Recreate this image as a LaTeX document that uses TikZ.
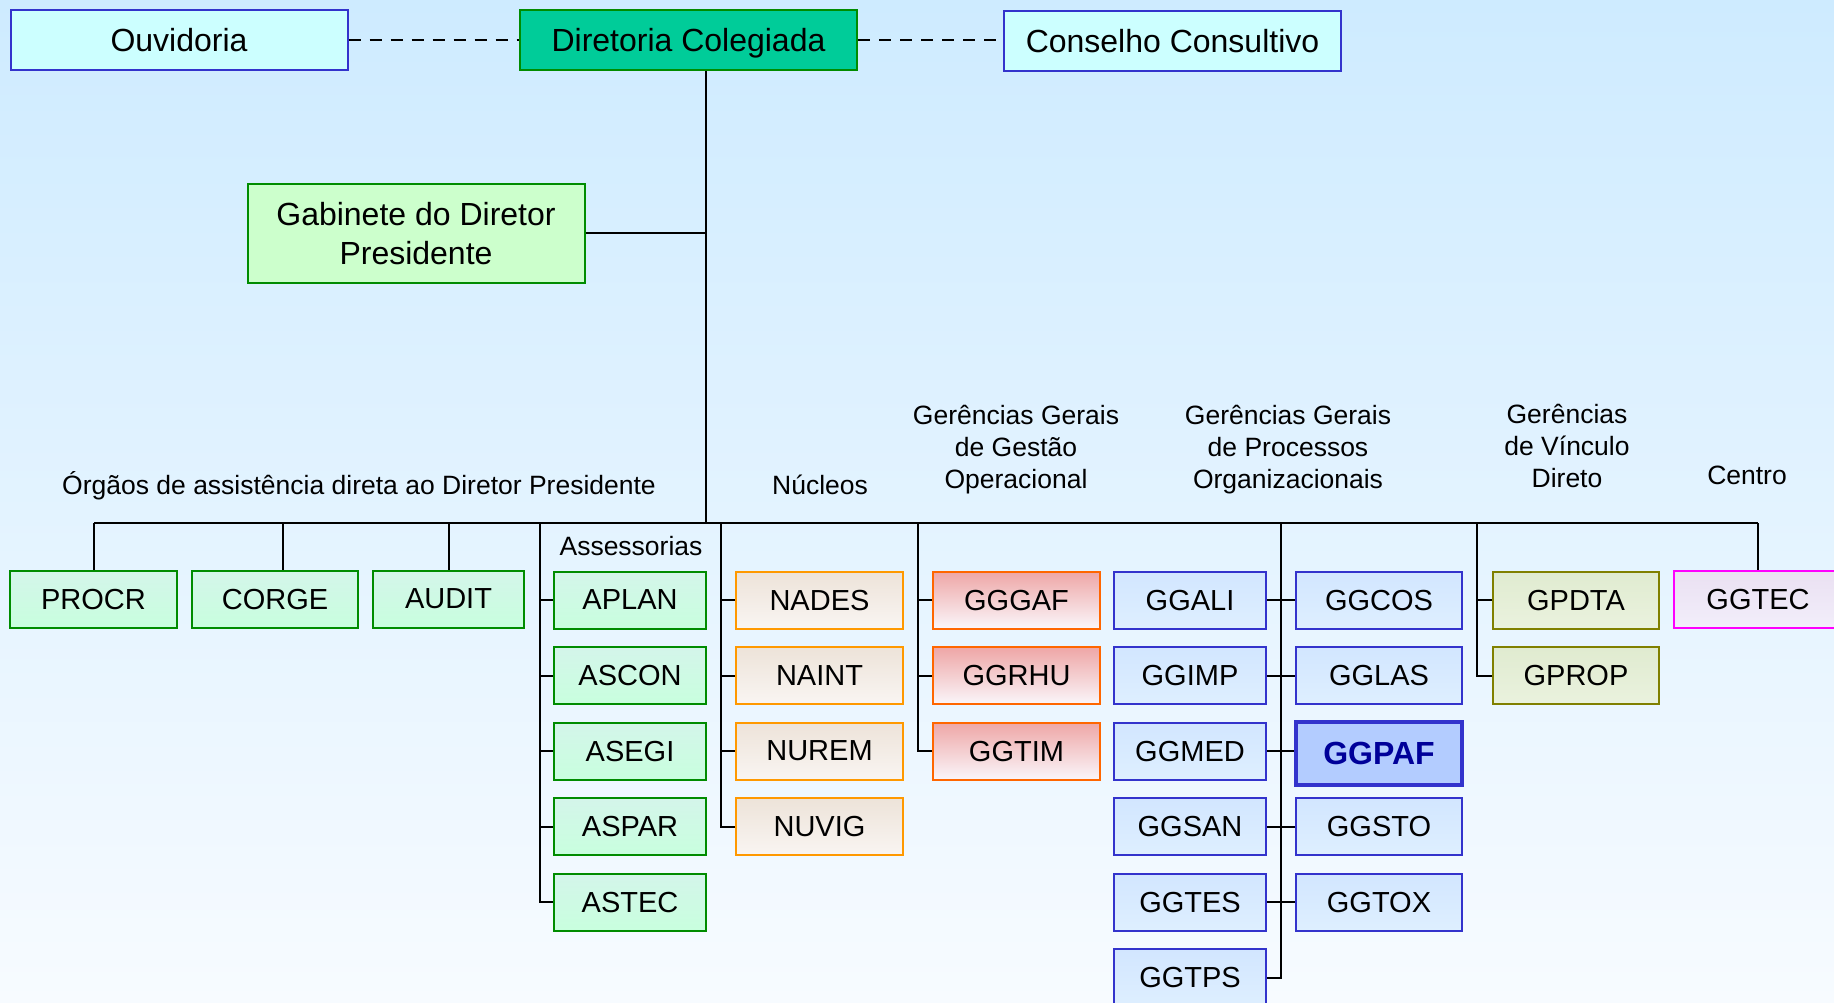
\documentclass[tikz,border=0pt]{standalone}
\usepackage{fontspec}
\setmainfont{Liberation Sans}
\definecolor{bgtop}{RGB}{206,235,255}
\definecolor{bgbot}{RGB}{247,251,255}
\definecolor{cyanfill}{RGB}{204,255,255}
\definecolor{bluebd}{RGB}{51,51,204}
\definecolor{dirfill}{RGB}{0,204,153}
\definecolor{greenbd}{RGB}{0,140,0}
\definecolor{gabfill}{RGB}{204,255,204}
\definecolor{gtop}{RGB}{212,245,234}
\definecolor{gbot}{RGB}{200,255,222}
\definecolor{ntop}{RGB}{237,227,217}
\definecolor{nbot}{RGB}{249,245,242}
\definecolor{nbd}{RGB}{255,153,0}
\definecolor{rtop}{RGB}{238,166,166}
\definecolor{rbot}{RGB}{250,246,250}
\definecolor{rbd}{RGB}{255,102,0}
\definecolor{btop}{RGB}{210,230,255}
\definecolor{bbot}{RGB}{222,239,255}
\definecolor{pafill}{RGB}{179,204,255}
\definecolor{patext}{RGB}{0,0,153}
\definecolor{otop}{RGB}{224,235,208}
\definecolor{obot}{RGB}{234,242,222}
\definecolor{obd}{RGB}{128,128,0}
\definecolor{mtop}{RGB}{234,224,242}
\definecolor{mbot}{RGB}{242,238,250}
\definecolor{mbd}{RGB}{255,0,255}
\begin{document}
\begin{tikzpicture}[x=1pt,y=-1pt,
  topbox/.style={draw, line width=2pt, rectangle, inner sep=0pt, minimum width=337pt, minimum height=60pt, text depth=0pt, font=\fontsize{32}{39}\selectfont, align=center},
  box/.style={draw, line width=2pt, rectangle, inner sep=0pt, minimum height=57pt, text depth=0pt, font=\fontsize{29}{34}\selectfont},
  gbox/.style={box, draw=greenbd, top color=gtop, bottom color=gbot},
  nbox/.style={box, draw=nbd, top color=ntop, bottom color=nbot, minimum width=167pt},
  rbox/.style={box, draw=rbd, top color=rtop, bottom color=rbot, minimum width=167pt},
  bbox/.style={box, draw=bluebd, top color=btop, bottom color=bbot},
  obox/.style={box, draw=obd, top color=otop, bottom color=obot, minimum width=166pt},
  mbox/.style={box, draw=mbd, top color=mtop, bottom color=mbot, minimum width=168pt},
  conn/.style={line width=2pt, black},
  dashline/.style={line width=2pt, black, dash pattern=on 12pt off 9pt},
  lbl/.style={font=\fontsize{26.5}{32}\selectfont, align=center, inner sep=0pt}
]
\shade[top color=bgtop, bottom color=bgbot] (0,0) rectangle (1834,1003);
\useasboundingbox (0,0) rectangle (1834,1003);

% top level
\node[topbox, fill=cyanfill, draw=bluebd] (ouv) at (179,40) {Ouvidoria};
\node[topbox, fill=dirfill, draw=greenbd] (dir) at (688.5,40) {Diretoria Colegiada};
\node[topbox, fill=cyanfill, draw=bluebd] (cons) at (1172.5,41) {Conselho Consultivo};
\node[topbox, fill=gabfill, draw=greenbd, minimum height=99pt] (gab) at (416,233.5) {Gabinete do Diretor\\Presidente};

\draw[dashline] (ouv.east) -- (dir.west);
\draw[dashline] (dir.east) -- (dir.east -| cons.west);

% labels
\node[lbl] (lorg) at (359,486) {Órgãos de assistência direta ao Diretor Presidente};
\node[lbl] (lnuc) at (820,485) {Núcleos};
\node[lbl] (lgest) at (1016,449.5) {Gerências Gerais\\de Gestão\\Operacional};
\node[lbl] (lproc) at (1288,449.5) {Gerências Gerais\\de Processos\\Organizacionais};
\node[lbl] (lvinc) at (1567,446) {Gerências\\de Vínculo\\Direto};
\node[lbl] (lcent) at (1747,475) {Centro};
\node[lbl] (lass) at (631,546) {Assessorias};

% row 1 direct boxes
\node[gbox, minimum width=167pt] (procr) at (93.5,599) {PROCR};
\node[gbox, minimum width=166pt] (corge) at (275,599) {CORGE};
\node[gbox, minimum width=151pt] (audit) at (448.5,599) {AUDIT};

% assessorias
\node[gbox, minimum width=152pt] (aplan) at (630,600) {APLAN};
\node[gbox, minimum width=152pt] (ascon) at (630,675.7) {ASCON};
\node[gbox, minimum width=152pt] (asegi) at (630,751) {ASEGI};
\node[gbox, minimum width=152pt] (aspar) at (630,826.7) {ASPAR};
\node[gbox, minimum width=152pt] (astec) at (630,902) {ASTEC};

% nucleos
\node[nbox] (nades) at (819.5,600) {NADES};
\node[nbox] (naint) at (819.5,675.7) {NAINT};
\node[nbox] (nurem) at (819.5,751) {NUREM};
\node[nbox] (nuvig) at (819.5,826.7) {NUVIG};

% gestao operacional
\node[rbox] (gggaf) at (1016.5,600) {GGGAF};
\node[rbox] (ggrhu) at (1016.5,675.7) {GGRHU};
\node[rbox] (ggtim) at (1016.5,751) {GGTIM};

% processos organizacionais
\node[bbox, minimum width=152pt] (ggali) at (1190,600) {GGALI};
\node[bbox, minimum width=152pt] (ggimp) at (1190,675.7) {GGIMP};
\node[bbox, minimum width=152pt] (ggmed) at (1190,751) {GGMED};
\node[bbox, minimum width=152pt] (ggsan) at (1190,826.7) {GGSAN};
\node[bbox, minimum width=152pt] (ggtes) at (1190,902) {GGTES};
\node[bbox, minimum width=152pt] (ggtps) at (1190,977.7) {GGTPS};
\node[bbox, minimum width=166pt] (ggcos) at (1379,600) {GGCOS};
\node[bbox, minimum width=166pt] (gglas) at (1379,675.7) {GGLAS};
\node[box, draw=bluebd, fill=pafill, line width=4.5pt, minimum width=166pt, minimum height=63pt, text=patext, font=\fontsize{32}{36}\selectfont\bfseries] (ggpaf) at (1379,753.5) {GGPAF};
\node[bbox, minimum width=166pt] (ggsto) at (1379,826.7) {GGSTO};
\node[bbox, minimum width=166pt] (ggtox) at (1379,902) {GGTOX};

% vinculo direto
\node[obox] (gpdta) at (1576,600) {GPDTA};
\node[obox] (gprop) at (1576,675.7) {GPROP};

% centro
\node[mbox] (ggtec) at (1758,599) {GGTEC};

% trunk and bus
\coordinate (trunk) at (705.5,523);
\coordinate (busL) at (94,523);
\coordinate (busR) at (1758,523);
\draw[conn] (dir.south -| trunk) -- (trunk);
\draw[conn] (gab.east) -- (gab.east -| trunk);
\draw[conn] (busL) -- (busR);

\coordinate (bc) at (283,523);
\coordinate (bd) at (449,523);
\coordinate (ba) at (540,523);
\coordinate (bn) at (721,523);
\coordinate (bg) at (918,523);
\coordinate (bp) at (1280.5,523);
\coordinate (bv) at (1477,523);

\draw[conn] (busL) -- (busL |- procr.north);
\draw[conn] (bc) -- (bc |- corge.north);
\draw[conn] (bd) -- (bd |- audit.north);
\draw[conn] (busR) -- (ggtec.north);

\draw[conn] (ba) -- (ba |- astec.west) -- (astec.west);
\foreach \n in {aplan,ascon,asegi,aspar} \draw[conn] (ba |- \n.west) -- (\n.west);

\draw[conn] (bn) -- (bn |- nuvig.west) -- (nuvig.west);
\foreach \n in {nades,naint,nurem} \draw[conn] (bn |- \n.west) -- (\n.west);

\draw[conn] (bg) -- (bg |- ggtim.west) -- (ggtim.west);
\foreach \n in {gggaf,ggrhu} \draw[conn] (bg |- \n.west) -- (\n.west);

\draw[conn] (bp) -- (bp |- ggtps.east) -- (ggtps.east);
\draw[conn] (ggali.east) -- (ggcos.west);
\draw[conn] (ggimp.east) -- (gglas.west);
\draw[conn] (ggmed.east) -- (ggmed.east -| ggpaf.west);
\draw[conn] (ggsan.east) -- (ggsto.west);
\draw[conn] (ggtes.east) -- (ggtox.west);

\draw[conn] (bv) -- (bv |- gprop.west) -- (gprop.west);
\draw[conn] (bv |- gpdta.west) -- (gpdta.west);
\end{tikzpicture}
\end{document}
